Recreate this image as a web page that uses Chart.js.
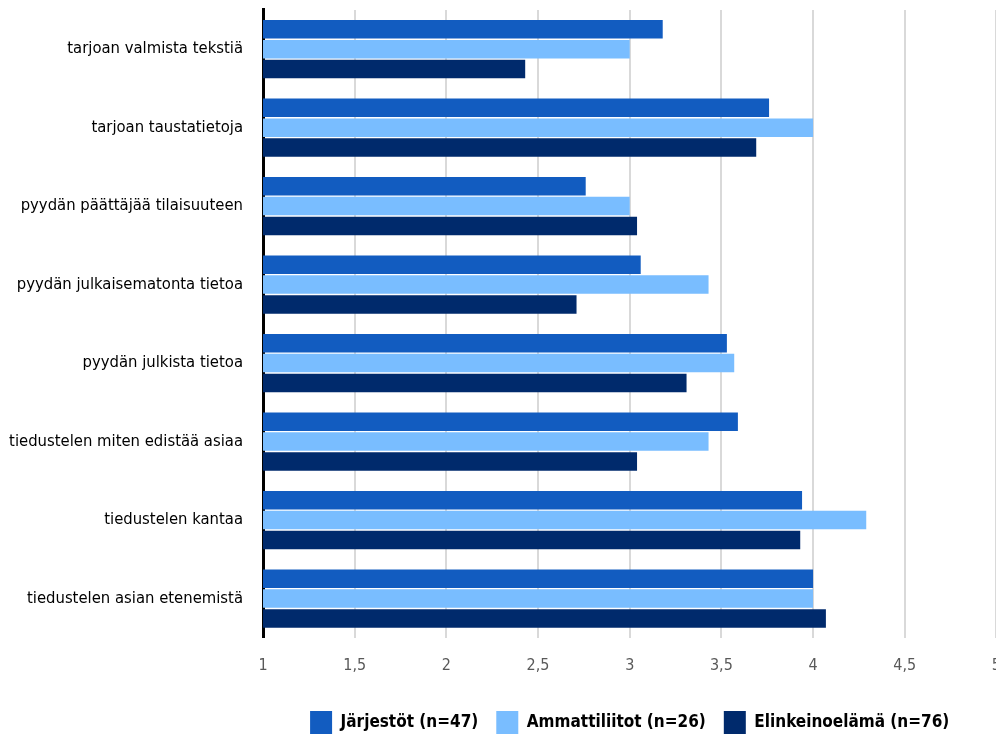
<!DOCTYPE html>
<html>
<head>
<meta charset="utf-8">
<script src="https://cdn.jsdelivr.net/npm/chart.js@4.4.1/dist/chart.umd.min.js"></script>
<style>
  html, body { margin: 0; padding: 0; background: #fff; overflow: hidden; }
  #wrap { width: 1019px; height: 757px; margin-top: -12px; position: relative; }
</style>
</head>
<body>
<div id="wrap"><canvas id="grafica"></canvas></div>
<script>
    let categories = [
        "tarjoan valmista tekstiä",
        "tarjoan taustatietoja",
        "pyydän päättäjää tilaisuuteen",
        "pyydän julkaisematonta tietoa",
        "pyydän julkista tietoa",
        "tiedustelen miten edistää asiaa",
        "tiedustelen kantaa",
        "tiedustelen asian etenemistä"
    ];
    let jarjestot = [3.18, 3.76, 2.76, 3.06, 3.53, 3.59, 3.94, 4.0];
    let ammattiliitot = [3.0, 4.0, 3.0, 3.43, 3.57, 3.43, 4.29, 4.0];
    let elinkeinoelama = [2.43, 3.69, 3.04, 2.71, 3.31, 3.04, 3.93, 4.07];
    let seriesNames = ["Järjestöt (n=47)", "Ammattiliitot (n=26)", "Elinkeinoelämä (n=76)"];

    const fontFamily = "'DejaVu Sans Condensed', 'Liberation Sans Narrow', 'Roboto', sans-serif";

    let grafica = document.getElementById("grafica").getContext("2d");

    var chart = new Chart(grafica, {
        type: "bar",
        data: {
            labels: categories,
            datasets: [
                { label: seriesNames[0], backgroundColor: "#125cc0", data: jarjestot },
                { label: seriesNames[1], backgroundColor: "#79bdff", data: ammattiliitot },
                { label: seriesNames[2], backgroundColor: "#002a6c", data: elinkeinoelama }
            ]
        },
        options: {
            indexAxis: "y",
            responsive: true,
            maintainAspectRatio: false,
            animation: false,
            layout: { padding: 0 },
            datasets: {
                bar: { categoryPercentage: 0.76, barPercentage: 0.93 }
            },
            scales: {
                x: {
                    min: 1,
                    max: 5,
                    ticks: {
                        stepSize: 0.5,
                        padding: 18,
                        color: "#595959",
                        font: { family: fontFamily, size: 16 },
                        callback: v => String(v).replace(".", ",")
                    },
                    grid: { color: "#d9d9d9", lineWidth: 2, drawTicks: false },
                    border: { display: false }
                },
                y: {
                    afterFit: s => { s.width = 263; },
                    ticks: {
                        padding: 12,
                        color: "#000",
                        font: { family: fontFamily, size: 16.5 }
                    },
                    grid: { display: false },
                    border: { display: true, color: "#000", width: 3 }
                }
            },
            plugins: {
                tooltip: { enabled: false },
                legend: {
                    position: "bottom",
                    fullSize: false,
                    labels: {
                        boxWidth: 22,
                        boxHeight: 24,
                        padding: 18,
                        color: "#000",
                        font: { family: fontFamily, size: 17, weight: "bold" }
                    }
                }
            }
        }
    })
</script>
</body>
</html>
